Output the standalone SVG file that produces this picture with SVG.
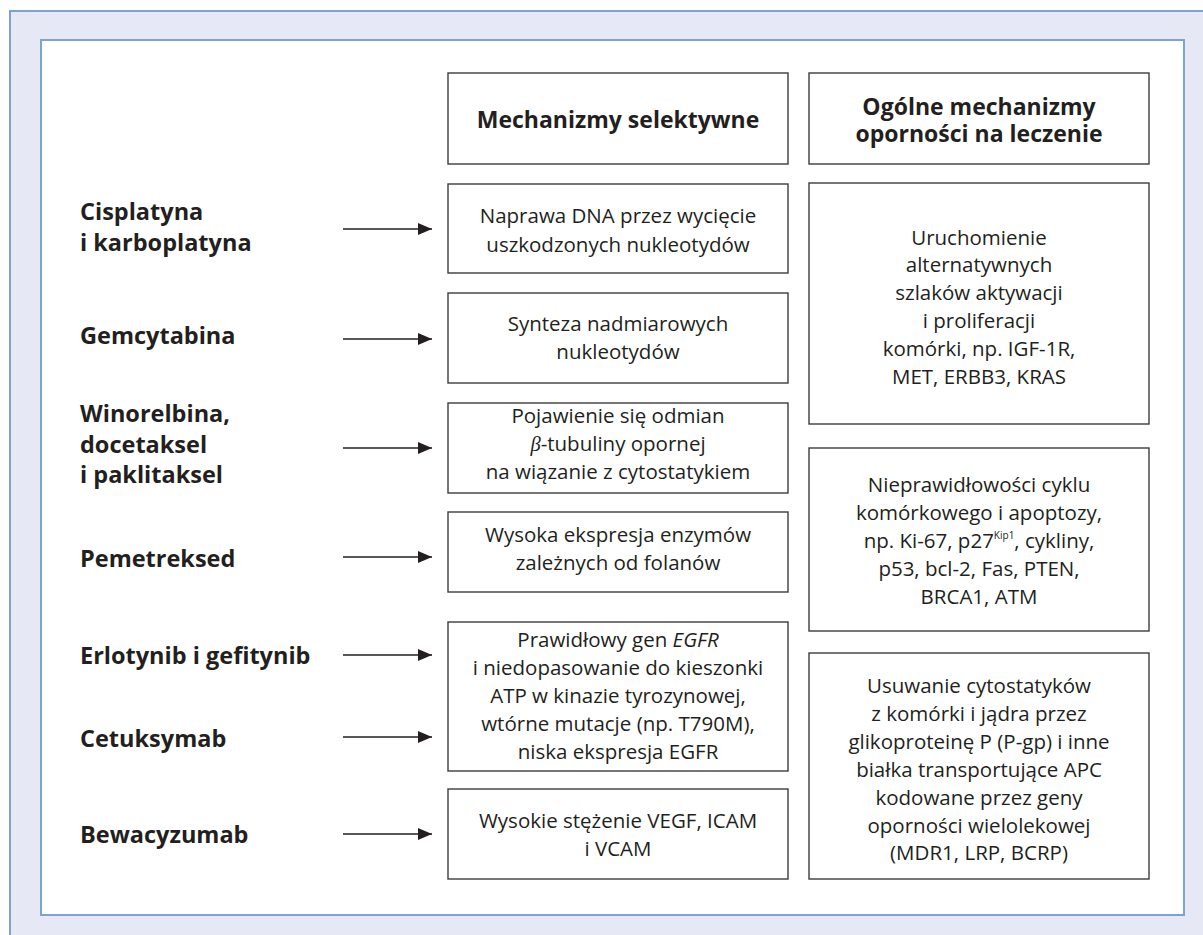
<svg xmlns="http://www.w3.org/2000/svg" width="1203" height="935" viewBox="0 0 1203 935">
<style>
.frame{fill:#E6E9F5;stroke:#7FA3CF;stroke-width:2}
.inner{fill:#FFFFFF;stroke:#7FA3CF;stroke-width:2}
.box{fill:#FFFFFF;stroke:#3C3C3C;stroke-width:1.4}
.t{font-family:"Open Sans","Liberation Sans",sans-serif;font-size:20.5px;fill:#231F20;text-anchor:middle}
.h{font-family:"Open Sans","Liberation Sans",sans-serif;font-size:23px;font-weight:bold;fill:#231F20;text-anchor:middle}
.l{font-family:"Open Sans","Liberation Sans",sans-serif;font-size:23.5px;font-weight:bold;fill:#231F20}
.c{stroke:#231F20;stroke-width:1.5;fill:none}
</style>
<defs>
<marker id="ah" viewBox="0 0 14 12" refX="14" refY="6" markerWidth="14" markerHeight="12" markerUnits="userSpaceOnUse" orient="auto">
<path d="M0,0 L14,6 L0,12 z" fill="#231F20"/>
</marker>
</defs>
<rect class="frame" x="10" y="11" width="1203" height="935"/>
<rect class="inner" x="41" y="40" width="1143" height="875"/>

<g id="header-selective">
<rect class="box" x="448" y="73" width="340" height="91"/>
<text class="h" x="618" y="128">Mechanizmy selektywne</text>
</g>
<g id="header-general">
<rect class="box" x="809" y="73" width="340" height="91"/>
<text class="h" x="979" y="115" font-size="22.5">Ogólne mechanizmy</text>
<text class="h" x="979" y="142" font-size="22.5">oporności na leczenie</text>
</g>

<g id="drug-cisplatyna"><text class="l" x="80" y="220">Cisplatyna</text><text class="l" x="80" y="251">i karboplatyna</text></g>
<g id="drug-gemcytabina"><text class="l" x="80" y="344">Gemcytabina</text></g>
<g id="drug-winorelbina"><text class="l" x="80" y="422">Winorelbina,</text><text class="l" x="80" y="453">docetaksel</text><text class="l" x="80" y="483">i paklitaksel</text></g>
<g id="drug-pemetreksed"><text class="l" x="80" y="567">Pemetreksed</text></g>
<g id="drug-erlotynib"><text class="l" x="80" y="664">Erlotynib i gefitynib</text></g>
<g id="drug-cetuksymab"><text class="l" x="80" y="747">Cetuksymab</text></g>
<g id="drug-bewacyzumab"><text class="l" x="80" y="843">Bewacyzumab</text></g>

<g id="sel-dna">
<rect class="box" x="448" y="184" width="340" height="89"/>
<text class="t" x="618" y="223">Naprawa DNA przez wycięcie</text>
<text class="t" x="618" y="252">uszkodzonych nukleotydów</text>
</g>
<g id="sel-synteza">
<rect class="box" x="448" y="293" width="340" height="90"/>
<text class="t" x="618" y="331">Synteza nadmiarowych</text>
<text class="t" x="618" y="359">nukleotydów</text>
</g>
<g id="sel-tubulina">
<rect class="box" x="448" y="403" width="340" height="90"/>
<text class="t" x="618" y="423">Pojawienie się odmian</text>
<text class="t" x="618" y="451"><tspan font-style="italic" font-family="Liberation Serif,serif">β</tspan>-tubuliny opornej</text>
<text class="t" x="618" y="479">na wiązanie z cytostatykiem</text>
</g>
<g id="sel-folany">
<rect class="box" x="448" y="512" width="340" height="80"/>
<text class="t" x="618" y="542">Wysoka ekspresja enzymów</text>
<text class="t" x="618" y="570">zależnych od folanów</text>
</g>
<g id="sel-egfr">
<rect class="box" x="448" y="622" width="340" height="149"/>
<text class="t" x="618" y="647">Prawidłowy gen <tspan font-style="italic">EGFR</tspan></text>
<text class="t" x="618" y="675">i niedopasowanie do kieszonki</text>
<text class="t" x="618" y="703">ATP w kinazie tyrozynowej,</text>
<text class="t" x="618" y="731">wtórne mutacje (np. T790M),</text>
<text class="t" x="618" y="759">niska ekspresja EGFR</text>
</g>
<g id="sel-vegf">
<rect class="box" x="448" y="789" width="340" height="90"/>
<text class="t" x="618" y="828">Wysokie stężenie VEGF, ICAM</text>
<text class="t" x="618" y="856">i VCAM</text>
</g>

<g id="gen-szlaki">
<rect class="box" x="809" y="183" width="340" height="241"/>
<text class="t" x="979" y="245">Uruchomienie</text>
<text class="t" x="979" y="272">alternatywnych</text>
<text class="t" x="979" y="300">szlaków aktywacji</text>
<text class="t" x="979" y="328">i proliferacji</text>
<text class="t" x="979" y="356">komórki, np. IGF-1R,</text>
<text class="t" x="979" y="384">MET, ERBB3, KRAS</text>
</g>
<g id="gen-cykl">
<rect class="box" x="809" y="448" width="340" height="183"/>
<text class="t" x="979" y="492">Nieprawidłowości cyklu</text>
<text class="t" x="979" y="520">komórkowego i apoptozy,</text>
<text class="t" x="979" y="548">np. Ki-67, p27<tspan font-size="10" dy="-9">Kip1</tspan><tspan dy="9">, cykliny,</tspan></text>
<text class="t" x="979" y="576">p53, bcl-2, Fas, PTEN,</text>
<text class="t" x="979" y="604">BRCA1, ATM</text>
</g>
<g id="gen-transport">
<rect class="box" x="809" y="653" width="340" height="226"/>
<text class="t" x="979" y="693">Usuwanie cytostatyków</text>
<text class="t" x="979" y="721">z komórki i jądra przez</text>
<text class="t" x="979" y="749">glikoproteinę P (P-gp) i inne</text>
<text class="t" x="979" y="777">białka transportujące APC</text>
<text class="t" x="979" y="805">kodowane przez geny</text>
<text class="t" x="979" y="833">oporności wielolekowej</text>
<text class="t" x="979" y="860">(MDR1, LRP, BCRP)</text>
</g>

<g id="connectors">
<line class="c" x1="343" y1="229" x2="432" y2="229" marker-end="url(#ah)"/>
<line class="c" x1="343" y1="339" x2="432" y2="339" marker-end="url(#ah)"/>
<line class="c" x1="343" y1="448" x2="432" y2="448" marker-end="url(#ah)"/>
<line class="c" x1="343" y1="557" x2="432" y2="557" marker-end="url(#ah)"/>
<line class="c" x1="343" y1="655" x2="432" y2="655" marker-end="url(#ah)"/>
<line class="c" x1="343" y1="737" x2="432" y2="737" marker-end="url(#ah)"/>
<line class="c" x1="343" y1="834" x2="432" y2="834" marker-end="url(#ah)"/>
</g>
</svg>
